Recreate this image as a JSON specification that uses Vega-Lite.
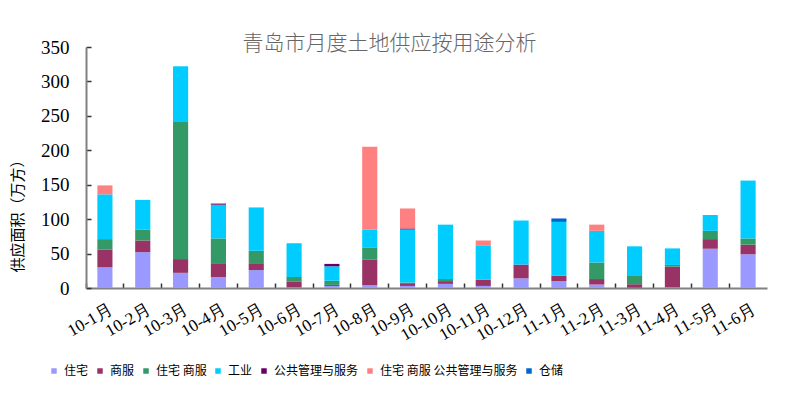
{
  "$schema": "https://vega.github.io/schema/vega-lite/v6.json",
  "width": 681,
  "height": 241,
  "autosize": {"type": "none"},
  "padding": {"left": 86, "top": 47, "right": 33, "bottom": 107},
  "background": "white",
  "title": {
    "text": "青岛市月度土地供应按用途分析",
    "anchor": "middle",
    "dx": -37,
    "offset": -16,
    "font": "Noto Sans CJK SC",
    "fontWeight": 300,
    "fontSize": 21,
    "color": "#666666"
  },
  "config": {
    "view": {"stroke": null},
    "font": "Liberation Serif"
  },
  "data": {
    "values": [
      {"m": "10-1月", "t": "住宅", "v": 30}, {"m": "10-1月", "t": "商服", "v": 26}, {"m": "10-1月", "t": "住宅 商服", "v": 15}, {"m": "10-1月", "t": "工业", "v": 65}, {"m": "10-1月", "t": "住宅 商服 公共管理与服务", "v": 13},
      {"m": "10-2月", "t": "住宅", "v": 52}, {"m": "10-2月", "t": "商服", "v": 17}, {"m": "10-2月", "t": "住宅 商服", "v": 16}, {"m": "10-2月", "t": "工业", "v": 43},
      {"m": "10-3月", "t": "住宅", "v": 22}, {"m": "10-3月", "t": "商服", "v": 20}, {"m": "10-3月", "t": "住宅 商服", "v": 199}, {"m": "10-3月", "t": "工业", "v": 81},
      {"m": "10-4月", "t": "住宅", "v": 16}, {"m": "10-4月", "t": "商服", "v": 20}, {"m": "10-4月", "t": "住宅 商服", "v": 36}, {"m": "10-4月", "t": "工业", "v": 49}, {"m": "10-4月", "t": "公共管理与服务", "v": 1.5}, {"m": "10-4月", "t": "住宅 商服 公共管理与服务", "v": 1},
      {"m": "10-5月", "t": "住宅", "v": 26}, {"m": "10-5月", "t": "商服", "v": 10}, {"m": "10-5月", "t": "住宅 商服", "v": 18}, {"m": "10-5月", "t": "工业", "v": 63},
      {"m": "10-6月", "t": "住宅", "v": 1}, {"m": "10-6月", "t": "商服", "v": 8}, {"m": "10-6月", "t": "住宅 商服", "v": 7}, {"m": "10-6月", "t": "工业", "v": 49},
      {"m": "10-7月", "t": "住宅", "v": 3}, {"m": "10-7月", "t": "商服", "v": 1.5}, {"m": "10-7月", "t": "住宅 商服", "v": 6}, {"m": "10-7月", "t": "工业", "v": 21}, {"m": "10-7月", "t": "公共管理与服务", "v": 3.5},
      {"m": "10-8月", "t": "住宅", "v": 4}, {"m": "10-8月", "t": "商服", "v": 37}, {"m": "10-8月", "t": "住宅 商服", "v": 18}, {"m": "10-8月", "t": "工业", "v": 26}, {"m": "10-8月", "t": "住宅 商服 公共管理与服务", "v": 120},
      {"m": "10-9月", "t": "住宅", "v": 3}, {"m": "10-9月", "t": "商服", "v": 4}, {"m": "10-9月", "t": "住宅 商服", "v": 1}, {"m": "10-9月", "t": "工业", "v": 77}, {"m": "10-9月", "t": "公共管理与服务", "v": 1.5}, {"m": "10-9月", "t": "住宅 商服 公共管理与服务", "v": 29},
      {"m": "10-10月", "t": "住宅", "v": 6}, {"m": "10-10月", "t": "商服", "v": 4}, {"m": "10-10月", "t": "住宅 商服", "v": 3}, {"m": "10-10月", "t": "工业", "v": 79},
      {"m": "10-11月", "t": "住宅", "v": 3}, {"m": "10-11月", "t": "商服", "v": 9}, {"m": "10-11月", "t": "工业", "v": 50}, {"m": "10-11月", "t": "住宅 商服 公共管理与服务", "v": 7},
      {"m": "10-12月", "t": "住宅", "v": 14}, {"m": "10-12月", "t": "商服", "v": 20}, {"m": "10-12月", "t": "工业", "v": 64},
      {"m": "11-1月", "t": "住宅", "v": 10}, {"m": "11-1月", "t": "商服", "v": 8}, {"m": "11-1月", "t": "工业", "v": 78}, {"m": "11-1月", "t": "仓储", "v": 5},
      {"m": "11-2月", "t": "住宅", "v": 5}, {"m": "11-2月", "t": "商服", "v": 8}, {"m": "11-2月", "t": "住宅 商服", "v": 24}, {"m": "11-2月", "t": "工业", "v": 46}, {"m": "11-2月", "t": "住宅 商服 公共管理与服务", "v": 9},
      {"m": "11-3月", "t": "住宅", "v": 0.5}, {"m": "11-3月", "t": "商服", "v": 5}, {"m": "11-3月", "t": "住宅 商服", "v": 13}, {"m": "11-3月", "t": "工业", "v": 42},
      {"m": "11-4月", "t": "住宅", "v": 1}, {"m": "11-4月", "t": "商服", "v": 30}, {"m": "11-4月", "t": "住宅 商服", "v": 2.5}, {"m": "11-4月", "t": "工业", "v": 24},
      {"m": "11-5月", "t": "住宅", "v": 57}, {"m": "11-5月", "t": "商服", "v": 14}, {"m": "11-5月", "t": "住宅 商服", "v": 12}, {"m": "11-5月", "t": "工业", "v": 23},
      {"m": "11-6月", "t": "住宅", "v": 49}, {"m": "11-6月", "t": "商服", "v": 14}, {"m": "11-6月", "t": "住宅 商服", "v": 9}, {"m": "11-6月", "t": "工业", "v": 84}
    ]
  },
  "transform": [
    {"calculate": "indexof(['住宅','商服','住宅 商服','工业','公共管理与服务','住宅 商服 公共管理与服务','仓储'], datum.t)", "as": "k"}
  ],
  "mark": {"type": "bar", "width": {"band": 0.4}},
  "encoding": {
    "x": {
      "field": "m",
      "type": "nominal",
      "sort": null,
      "scale": {"paddingInner": 0, "paddingOuter": 0},
      "axis": {
        "title": null,
        "bandPosition": 0,
        "labelAngle": -30,
        "labelAlign": "right",
        "labelBaseline": "top",
        "labelFont": "Liberation Serif",
        "labelFontSize": 17,
        "labelColor": "#000000",
        "labelPadding": 18,
        "labelOffset": 2,
        "domainColor": "#808080",
        "domainWidth": 2,
        "tickColor": "#333333",
        "tickSize": -5,
        "tickWidth": 1.5
      }
    },
    "y": {
      "field": "v",
      "type": "quantitative",
      "stack": "zero",
      "scale": {"domain": [0, 350]},
      "axis": {
        "title": "供应面积（万方）",
        "titleFont": "Noto Sans CJK SC",
        "titleFontWeight": "normal",
        "titleFontSize": 15,
        "titleColor": "#000000",
        "titleX": -61,
        "titleY": 165,
        "titleAngle": -90,
        "titleAlign": "center",
        "values": [0, 50, 100, 150, 200, 250, 300, 350],
        "grid": false,
        "labelFont": "Liberation Serif",
        "labelFontSize": 19,
        "labelColor": "#000000",
        "labelPadding": 22,
        "domainColor": "#808080",
        "domainWidth": 2,
        "tickColor": "#333333",
        "tickSize": -5,
        "tickWidth": 1.5
      }
    },
    "color": {
      "field": "t",
      "type": "nominal",
      "scale": {
        "domain": ["住宅", "商服", "住宅 商服", "工业", "公共管理与服务", "住宅 商服 公共管理与服务", "仓储"],
        "range": ["#9999FF", "#993366", "#339966", "#00CCFF", "#660066", "#FF8080", "#0066CC"]
      },
      "legend": {
        "title": null,
        "orient": "none",
        "direction": "horizontal",
        "legendX": -38,
        "legendY": 318,
        "symbolType": "square",
        "symbolSize": 30,
        "symbolStrokeWidth": 0,
        "labelFont": "Noto Sans CJK SC",
        "labelFontSize": 12,
        "labelColor": "#000000",
        "labelOffset": 4,
        "columnPadding": 5
      }
    },
    "order": {"field": "k", "type": "quantitative"}
  }
}
